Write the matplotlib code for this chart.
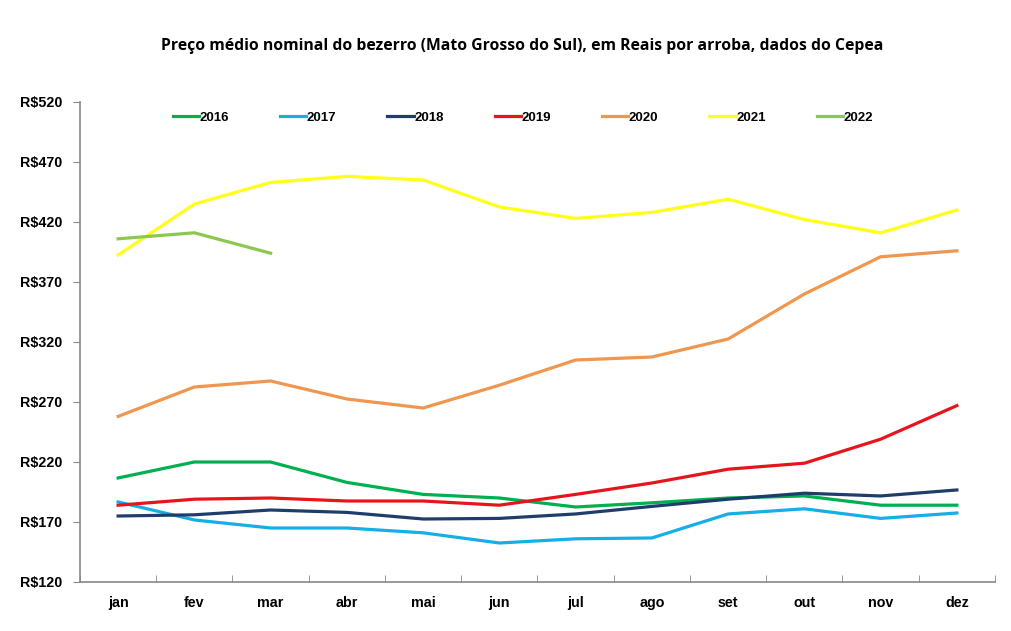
import numpy as np
import matplotlib
matplotlib.use('Agg')
import matplotlib.pyplot as plt

plt.rcParams['font.family'] = ['Liberation Sans', 'DejaVu Sans']

months = ['jan', 'fev', 'mar', 'abr', 'mai', 'jun', 'jul', 'ago', 'set', 'out', 'nov', 'dez']

p2016 = [206.7, 220, 220, 203, 193, 190, 182.5, 186, 190, 191.7, 184, 184]
p2017 = [186.7, 171.7, 165, 165, 161, 152.5, 156, 156.7, 176.7, 181, 173, 177.5]
p2018 = [175, 176, 180, 178, 172.5, 173, 176.7, 183, 189, 194, 191.7, 196.7]
p2019 = [184, 189, 190, 187.5, 187.5, 184, 193, 202.5, 214, 219, 239, 267]
p2020 = [258, 282.5, 287.5, 272.5, 265, 284, 305, 307.5, 322.5, 360, 391, 396]
p2021 = [392.5, 435, 453, 458, 455, 432.5, 423, 428, 439, 422, 411, 430]
p2022 = [406, 411, 394]

series = [('2016', p2016, '#00B050'),
          ('2017', p2017, '#16AEE6'),
          ('2018', p2018, '#1F3D6B'),
          ('2019', p2019, '#E8141C'),
          ('2020', p2020, '#F0964E'),
          ('2021', p2021, '#FFFF1A'),
          ('2022', p2022, '#8CC850')]

yticks = [120, 170, 220, 270, 320, 370, 420, 470, 520]

fig = plt.figure(figsize=(10.12, 6.31), dpi=100)
ax = fig.add_axes([80/1012, 49/631, 915/1012, 480/631])

for name, vals, col in series:
    x = np.arange(len(vals))
    ax.plot(x, vals, color=col, lw=2.3, label=name, solid_joinstyle='round')

ax.set_xlim(-0.5, 11.5)
ax.set_ylim(120, 520)
ax.set_yticks(yticks)
ax.set_yticklabels(['R$%d' % v for v in yticks], fontsize=10.3, fontweight='bold')
ax.set_xticks(np.arange(12))
ax.set_xticklabels(months, fontsize=10.3, fontweight='bold')
ax.set_xticks(np.arange(-0.5, 12, 1), minor=True)
ax.tick_params(axis='x', which='major', length=0, pad=10)
ax.tick_params(axis='x', which='minor', length=5, color='#888888', direction='in')
ax.tick_params(axis='y', length=5, color='#888888', pad=8)

for s in ['top', 'right']:
    ax.spines[s].set_visible(False)
for s in ['left', 'bottom']:
    ax.spines[s].set_color('#888888')
    ax.spines[s].set_linewidth(1.2)

leg = ax.legend(ncol=7, loc='center', bbox_to_anchor=(0.484, 0.967), frameon=False,
                handlelength=2.0, handletextpad=0.05, columnspacing=3.85,
                prop={'weight': 'bold', 'size': 9.5})

fig.text(522/1012, 1 - 46/631, 'Preço médio nominal do bezerro (Mato Grosso do Sul), em Reais por arroba, dados do Cepea',
         ha='center', va='center', fontsize=11.3, fontweight='bold', family=['Open Sans', 'DejaVu Sans'])

fig.savefig('out.png', dpi=100)
